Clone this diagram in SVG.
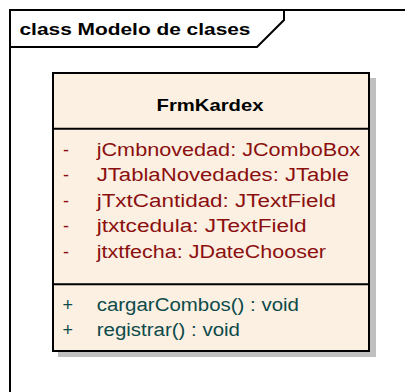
<svg xmlns="http://www.w3.org/2000/svg" width="405" height="392" viewBox="0 0 405 392">
<style>
.ln{fill:none;stroke:#000;stroke-width:2}
.b{font-family:"Liberation Sans",Arial,sans-serif;font-weight:bold;font-size:16.5px;fill:#000}
.a{font-family:"Liberation Sans",Arial,sans-serif;font-size:18px;fill:#8b0f0f}
.m{font-family:"Liberation Sans",Arial,sans-serif;font-size:18px;fill:#0d4a4a}
</style>
<rect width="405" height="392" fill="#fff"/>
<g id="frame">
<path class="ln" d="M10,392 V10 H405"/>
<path class="ln" d="M10,47 H257 L284,20 V10"/>
<text class="b" x="19.5" y="35" textLength="231" lengthAdjust="spacingAndGlyphs">class Modelo de clases</text>
</g>
<g id="FrmKardex">
<rect x="58" y="78" width="318" height="279" fill="#c0c0c0"/>
<rect x="53" y="73" width="316" height="278" fill="#fbf0e2" stroke="#000" stroke-width="2"/>
<line class="ln" x1="53" y1="128.7" x2="369" y2="128.7"/>
<line class="ln" x1="53" y1="284.3" x2="369" y2="284.3"/>
<text class="b" x="156.5" y="111" textLength="107" lengthAdjust="spacingAndGlyphs">FrmKardex</text>
<g class="a">
<text x="63" y="155.5">-</text>
<text x="63" y="181">-</text>
<text x="63" y="206.5">-</text>
<text x="63" y="232">-</text>
<text x="63" y="257.5">-</text>
<text x="96.7" y="155.5" textLength="263.3" lengthAdjust="spacingAndGlyphs">jCmbnovedad:  JComboBox</text>
<text x="96.7" y="181" textLength="252.3" lengthAdjust="spacingAndGlyphs">JTablaNovedades: JTable</text>
<text x="96.7" y="206.5" textLength="239.3" lengthAdjust="spacingAndGlyphs">jTxtCantidad:  JTextField</text>
<text x="96.7" y="232" textLength="210" lengthAdjust="spacingAndGlyphs">jtxtcedula:  JTextField</text>
<text x="96.7" y="257.5" textLength="229.3" lengthAdjust="spacingAndGlyphs">jtxtfecha:  JDateChooser</text>
</g>
<g class="m">
<text x="62.5" y="310.5">+</text>
<text x="62.5" y="336">+</text>
<text x="96.7" y="310.5" textLength="202.3" lengthAdjust="spacingAndGlyphs">cargarCombos() : void</text>
<text x="96.7" y="336" textLength="143.3" lengthAdjust="spacingAndGlyphs">registrar() : void</text>
</g>
</g>
<g id="connectors"/>
</svg>
